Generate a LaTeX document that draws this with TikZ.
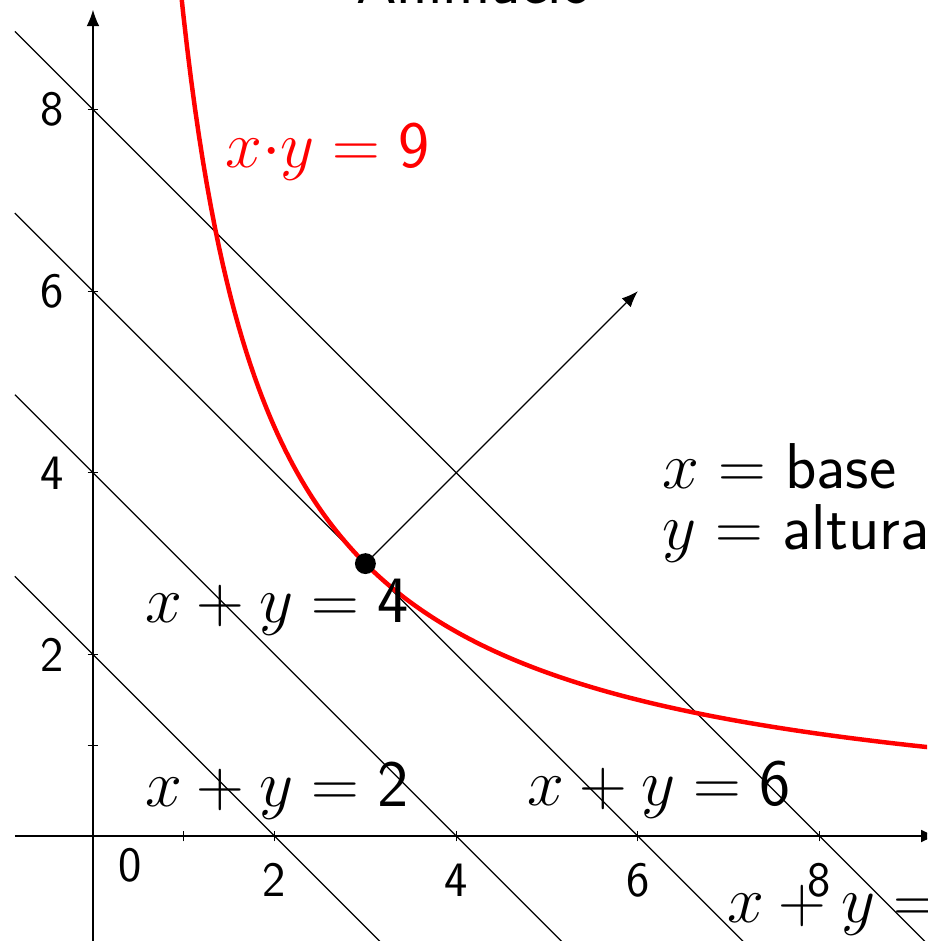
\documentclass[tikz,border=0pt]{standalone}
\usetikzlibrary{arrows.meta}
\begin{document}
\begin{tikzpicture}[
  thinline/.style={line width=0.4pt},
  axisline/.style={line width=0.45pt,-{Latex[length=1.8mm,width=1.4mm]}},
  eq/.style={font=\fontsize{20.3}{23}\selectfont, inner sep=0pt},
  ticklab/.style={font=\sffamily\fontsize{15.5}{17}\selectfont, inner sep=0pt},
  tickmark/.style={line width=0.4pt},
  curve/.style={red, line width=1.4pt}
]
\useasboundingbox (-1.024,-1.156) rectangle (9.185,9.207);
\clip (-1.024,-1.156) rectangle (9.185,9.207);

% axes
\coordinate (xa) at (-0.86,0);
\coordinate (xb) at (9.3,0);
\coordinate (ya) at (0,-1.3);
\coordinate (yb) at (0,9.1);
\draw[axisline] (xa) -- (xb);
\draw[axisline] (ya) -- (yb);

% ticks
\foreach \t in {1,2,4,6,8} {
  \draw[tickmark] (\t,-0.06) -- (\t,0.06);
  \draw[tickmark] (-0.06,\t) -- (0.06,\t);
}

% tick labels
\node[ticklab] (t0) at (0.41,-0.32) {0};
\node[ticklab] (tx2) at (2,-0.485) {2};
\node[ticklab] (tx4) at (4,-0.485) {4};
\node[ticklab] (tx6) at (6,-0.485) {6};
\node[ticklab] (tx8) at (8,-0.485) {8};
\node[ticklab] (ty2) at (-0.45,2) {2};
\node[ticklab] (ty4) at (-0.45,4) {4};
\node[ticklab] (ty6) at (-0.45,6) {6};
\node[ticklab] (ty8) at (-0.45,8) {8};

% level lines x+y=c
\foreach \c in {2,4,6,8} {
  \coordinate (L\c a) at (-0.86,{\c+0.86});
  \coordinate (L\c b) at ({\c+1.4},-1.4);
  \draw[thinline] (L\c a) -- (L\c b);
}

% hyperbola
\draw[curve] plot[domain=0.95:9.6,samples=200] (\x,{9/\x});

% point and gradient arrow
\node[circle, fill=black, inner sep=0pt, minimum size=0.23cm] (P) at (3,3) {};
\coordinate (G) at (6,6);
\draw[thinline,-{Latex[length=1.8mm,width=1.4mm]}] (P.center) -- (G);

% labels
\node[eq, red, anchor=base west] (lxy) at (1.45,7.36) {$x{\cdot}y=\mathsf{9}$};
\node[eq, anchor=base west] (l4) at (0.57,2.35) {$x+y=\mathsf{4}$};
\node[eq, anchor=base west] (l2) at (0.57,0.33) {$x+y=\mathsf{2}$};
\node[eq, anchor=base west] (l6) at (4.78,0.34) {$x+y=\mathsf{6}$};
\node[eq, anchor=base west] (l8) at (6.98,-0.95) {$x+y=\mathsf{8}$};
\node[eq, anchor=base west] (lb) at (6.27,3.83) {$x=$ \textsf{base}};
\node[eq, anchor=base west] (la) at (6.27,3.15) {$y=$ \textsf{altura}};
\node[eq, anchor=base, font=\sffamily\fontsize{20.3}{23}\selectfont] (title) at (4.2,9.17) {Animació};
\end{tikzpicture}
\end{document}
